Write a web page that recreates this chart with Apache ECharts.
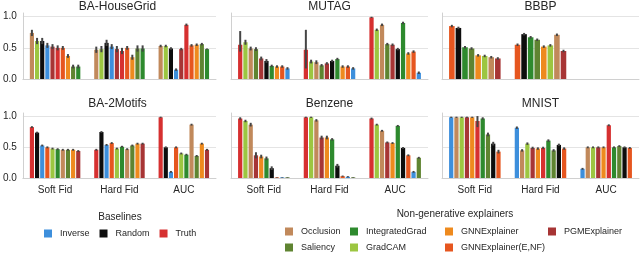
<!DOCTYPE html>
<html><head><meta charset="utf-8">
<script src="https://cdn.jsdelivr.net/npm/echarts@6/dist/echarts.min.js"></script>
<style>html,body{margin:0;padding:0;background:#fff}#c{width:640px;height:253px}</style>
</head><body><div id="c"></div>
<script>
// ---------- data ----------
const categories = ['Soft Fid', 'Hard Fid', 'AUC'];
const baselineNames = ['Inverse', 'Random', 'Truth'];
const explainerColumns = [['Occlusion', 'Saliency'], ['IntegratedGrad', 'GradCAM'], ['GNNExplainer', 'GNNExplainer(E,NF)'], ['PGMExplainer']];
const methodColors = {
  'Inverse': '#3d8fdc', 'Random': '#0d0d0d', 'Truth': '#d63030',
  'Occlusion': '#c1895b', 'IntegratedGrad': '#2e8a2e', 'GNNExplainer': '#ee8a1e',
  'PGMExplainer': '#a73535', 'Saliency': '#5f8431', 'GradCAM': '#9cc641',
  'GNNExplainer(E,NF)': '#e6561f'
};

const houseGridOrder = ['Occlusion', 'GradCAM', 'Random', 'Inverse', 'PGMExplainer', 'Truth', 'GNNExplainer(E,NF)', 'GNNExplainer', 'Saliency', 'IntegratedGrad'];
const houseGridSoft = [0.74, 0.61, 0.61, 0.54, 0.52, 0.50, 0.50, 0.37, 0.20, 0.20];
const houseGridHard = [0.47, 0.48, 0.58, 0.52, 0.48, 0.45, 0.50, 0.35, 0.49, 0.49];
const houseGridAuc = [0.53, 0.53, 0.49, 0.15, 0.48, 0.87, 0.54, 0.55, 0.56, 0.48];
const houseGridSoftErr = [0.05, 0.05, 0.05, 0.04, 0.04, 0.04, 0.03, 0.03, 0.03, 0.03];
const houseGridHardErr = [0.05, 0.05, 0.05, 0.04, 0.05, 0.05, 0.03, 0.04, 0.05, 0.05];
const houseGridAucErr = [0.02, 0.02, 0.02, 0.02, 0.02, 0.02, 0.02, 0.02, 0.02, 0.01];

const mutagOrder = ['Truth', 'GradCAM', 'Occlusion', 'Saliency', 'PGMExplainer', 'Random', 'IntegratedGrad', 'GNNExplainer', 'GNNExplainer(E,NF)', 'Inverse'];
const mutagSoft = [0.55, 0.59, 0.49, 0.48, 0.33, 0.29, 0.21, 0.20, 0.20, 0.17];
const mutagHard = [0.47, 0.28, 0.27, 0.22, 0.25, 0.29, 0.32, 0.20, 0.20, 0.17];
const mutagAuc = [0.99, 0.79, 0.87, 0.56, 0.55, 0.48, 0.90, 0.41, 0.44, 0.10];
const mutagSoftErr = [[0.11, 0.22], 0.04, 0.03, 0.03, 0.03, 0.03, 0.02, 0.02, 0.02, 0.02];
const mutagHardErr = [[0.30, 0.32], 0.03, 0.03, 0.02, 0.02, 0.02, 0.02, 0.02, 0.02, 0.02];
const mutagAucErr = [0.01, 0.02, 0.02, 0.02, 0.02, 0.02, 0.02, 0.02, 0.02, 0.02];

const bbbpOrder = ['GNNExplainer(E,NF)', 'Random', 'IntegratedGrad', 'Saliency', 'GNNExplainer', 'GradCAM', 'Occlusion', 'PGMExplainer'];
const bbbpSoft = [0.85, 0.82, 0.51, 0.49, 0.38, 0.37, 0.35, 0.33];
const bbbpHard = [0.55, 0.72, 0.67, 0.63, 0.52, 0.54, 0.71, 0.45];
const bbbpAuc = [null, null, null, null, null, null, null, null];
const bbbpSoftErr = [0.02, 0.02, 0.02, 0.02, 0.02, 0.02, 0.02, 0.02];
const bbbpHardErr = [0.02, 0.02, 0.02, 0.02, 0.02, 0.02, 0.02, 0.02];
const bbbpAucErr = [0, 0, 0, 0, 0, 0, 0, 0];

const motifsOrder = ['Truth', 'Random', 'Inverse', 'GNNExplainer(E,NF)', 'GradCAM', 'IntegratedGrad', 'Occlusion', 'Saliency', 'GNNExplainer', 'PGMExplainer'];
const motifsSoft = [0.83, 0.74, 0.53, 0.50, 0.48, 0.47, 0.46, 0.46, 0.46, 0.44];
const motifsHard = [0.46, 0.75, 0.54, 0.57, 0.48, 0.51, 0.47, 0.53, 0.56, 0.56];
const motifsAuc = [0.99, 0.50, 0.10, 0.50, 0.40, 0.38, 0.87, 0.36, 0.56, 0.46];
const motifsSoftErr = [0.015, 0.015, 0.015, 0.015, 0.015, 0.015, 0.015, 0.015, 0.015, 0.015];
const motifsHardErr = [0.015, 0.015, 0.015, 0.015, 0.015, 0.015, 0.015, 0.015, 0.015, 0.015];
const motifsAucErr = [0.01, 0.015, 0.015, 0.015, 0.015, 0.015, 0.015, 0.015, 0.015, 0.015];

const benzeneOrder = ['Truth', 'GradCAM', 'Occlusion', 'PGMExplainer', 'GNNExplainer', 'IntegratedGrad', 'Random', 'GNNExplainer(E,NF)', 'Inverse', 'Saliency'];
const benzeneSoft = [0.97, 0.93, 0.87, 0.37, 0.35, 0.32, 0.16, 0.01, 0.01, 0.01];
const benzeneHard = [0.99, 0.99, 0.94, 0.66, 0.66, 0.63, 0.20, 0.03, 0.02, 0.01];
const benzeneAuc = [0.97, 0.87, 0.77, 0.58, 0.57, 0.85, 0.49, 0.37, 0.10, 0.33];
const benzeneSoftErr = [0.02, 0.02, 0.03, 0.05, 0.03, 0.03, 0.03, 0.005, 0.005, 0.005];
const benzeneHardErr = [0.01, 0.01, 0.02, 0.03, 0.03, 0.02, 0.03, 0.01, 0.01, 0.005];
const benzeneAucErr = [0.015, 0.015, 0.015, 0.015, 0.015, 0.015, 0.015, 0.015, 0.015, 0.015];

const mnistOrder = ['Inverse', 'Occlusion', 'GradCAM', 'PGMExplainer', 'GNNExplainer', 'Truth', 'IntegratedGrad', 'Saliency', 'Random', 'GNNExplainer(E,NF)'];
const mnistSoft = [0.99, 0.99, 0.99, 0.99, 0.99, 0.93, 0.97, 0.71, 0.56, 0.43];
const mnistHard = [0.82, 0.45, 0.56, 0.49, 0.48, 0.49, 0.61, 0.45, 0.54, 0.48];
const mnistAuc = [0.15, 0.50, 0.50, 0.50, 0.50, 0.86, 0.50, 0.52, 0.50, 0.49];
const mnistSoftErr = [0.01, 0.01, 0.01, 0.01, 0.01, [0.10, 0.08], 0.02, 0.03, 0.03, 0.03];
const mnistHardErr = [0.02, 0.02, 0.02, 0.02, 0.02, 0.02, 0.02, 0.02, 0.02, 0.02];
const mnistAucErr = [0.015, 0.015, 0.015, 0.015, 0.015, 0.015, 0.015, 0.015, 0.015, 0.015];

const panelTitles = ['BA-HouseGrid', 'MUTAG', 'BBBP', 'BA-2Motifs', 'Benzene', 'MNIST'];

// ---------- build ----------
const panels = [
  [houseGridOrder, [houseGridSoft, houseGridHard, houseGridAuc], [houseGridSoftErr, houseGridHardErr, houseGridAucErr]],
  [mutagOrder, [mutagSoft, mutagHard, mutagAuc], [mutagSoftErr, mutagHardErr, mutagAucErr]],
  [bbbpOrder, [bbbpSoft, bbbpHard, bbbpAuc], [bbbpSoftErr, bbbpHardErr, bbbpAucErr]],
  [motifsOrder, [motifsSoft, motifsHard, motifsAuc], [motifsSoftErr, motifsHardErr, motifsAucErr]],
  [benzeneOrder, [benzeneSoft, benzeneHard, benzeneAuc], [benzeneSoftErr, benzeneHardErr, benzeneAucErr]],
  [mnistOrder, [mnistSoft, mnistHard, mnistAuc], [mnistSoftErr, mnistHardErr, mnistAucErr]]
];

const FONT = 'Liberation Sans, Arial, Helvetica, sans-serif';
const TXT = '#262626';
const LINE = '#d0d0d0';
const colLeft = [19, 231, 442];
const gridW = 197;
const rowTop = [13, 113];
const rowH = [66, 65];
const titleTop = [1, 98];

const grids = [], xAxes = [], yAxes = [], series = [], titles = [];
panels.forEach((p, k) => {
  const r = Math.floor(k / 3), c = k % 3;
  grids.push({ left: colLeft[c], top: rowTop[r], width: gridW, height: rowH[r] });
  xAxes.push({
    type: 'category', gridIndex: k, data: categories,
    axisLine: { show: true, lineStyle: { color: LINE, width: 1 } },
    axisTick: { show: false },
    axisLabel: { show: r === 1, fontSize: 10, color: TXT, margin: 7, fontFamily: FONT },
    splitLine: { show: false }
  });
  yAxes.push({
    type: 'value', gridIndex: k, min: 0, max: 1.06, interval: 0.5,
    axisLine: { show: true, lineStyle: { color: LINE, width: 1 } },
    axisTick: { show: false },
    axisLabel: { show: c === 0, fontSize: 10, color: TXT, margin: 6, fontFamily: FONT,
      showMaxLabel: false, formatter: v => v.toFixed(1) },
    splitLine: { show: true, showMaxLine: false, lineStyle: { color: '#e4e4e4', width: 1 } }
  });
  titles.push({
    text: panelTitles[k], left: colLeft[c] + gridW / 2, top: titleTop[r], textAlign: 'center', padding: 0,
    textStyle: { fontSize: 12, fontWeight: 'normal', color: TXT, fontFamily: FONT }
  });
  const order = p[0], vals = p[1], errs = p[2];
  const n = order.length;
  order.forEach((name, i) => {
    const color = methodColors[name];
    const data = categories.map((cat, ci) => {
      const v = vals[ci][i];
      const e = errs[ci][i];
      const lo = Array.isArray(e) ? e[0] : e;
      const hi = Array.isArray(e) ? e[1] : e;
      return v == null ? [ci, '-', 0, 0] : [ci, v, lo, hi];
    });
    series.push({
      type: 'custom', name: name, xAxisIndex: k, yAxisIndex: k,
      itemStyle: { color: color },
      encode: { x: 0, y: 1 },
      data: data,
      renderItem: function (params, api) {
        const v = api.value(1);
        if (v === '-' || v == null || isNaN(v)) return null;
        const ci = api.value(0);
        const lo = api.value(2), hi = api.value(3);
        const base = api.coord([ci, 0]);
        const top = api.coord([ci, v]);
        const band = api.size([1, 0])[0];
        const gw = band * 0.8, bw = gw / n;
        const x0 = base[0] - gw / 2 + i * bw;
        const pLo = api.coord([ci, v - lo]), pHi = api.coord([ci, v + hi]);
        const cx = x0 + bw / 2;
        return {
          type: 'group', children: [
            { type: 'rect', shape: { x: x0 + 0.5, y: top[1], width: bw - 1, height: base[1] - top[1] }, style: { fill: color } },
            { type: 'line', shape: { x1: cx, y1: pLo[1], x2: cx, y2: pHi[1] }, style: { stroke: '#454545', lineWidth: 2 } }
          ]
        };
      }
    });
  });
});

titles.push({ text: 'Baselines', left: 120, top: 212, textAlign: 'center', padding: 0,
  textStyle: { fontSize: 10, fontWeight: 'normal', color: TXT, fontFamily: FONT } });
titles.push({ text: 'Non-generative explainers', left: 455, top: 209, textAlign: 'center', padding: 0,
  textStyle: { fontSize: 10, fontWeight: 'normal', color: TXT, fontFamily: FONT } });

const legendText = { fontSize: 9, color: TXT, fontFamily: FONT, padding: [0, 0, 0, 3] };
const legends = [{
  data: baselineNames, left: 44, top: 229, orient: 'horizontal', icon: 'rect',
  itemWidth: 8, itemHeight: 8, itemGap: 10, selectedMode: false, textStyle: legendText, padding: 0
}];
const explainerLeft = [285, 350, 445, 548];
explainerColumns.forEach((col, j) => {
  legends.push({
    data: col, left: explainerLeft[j], top: 227, orient: 'vertical', icon: 'rect',
    itemWidth: 8, itemHeight: 8, itemGap: 7, selectedMode: false, textStyle: legendText, padding: 0
  });
});

const chart = echarts.init(document.getElementById('c'), null, { renderer: 'canvas' });
chart.setOption({
  animation: false,
  backgroundColor: '#ffffff',
  textStyle: { fontFamily: FONT },
  title: titles,
  legend: legends,
  grid: grids,
  xAxis: xAxes,
  yAxis: yAxes,
  series: series
});
</script>
</body></html>
